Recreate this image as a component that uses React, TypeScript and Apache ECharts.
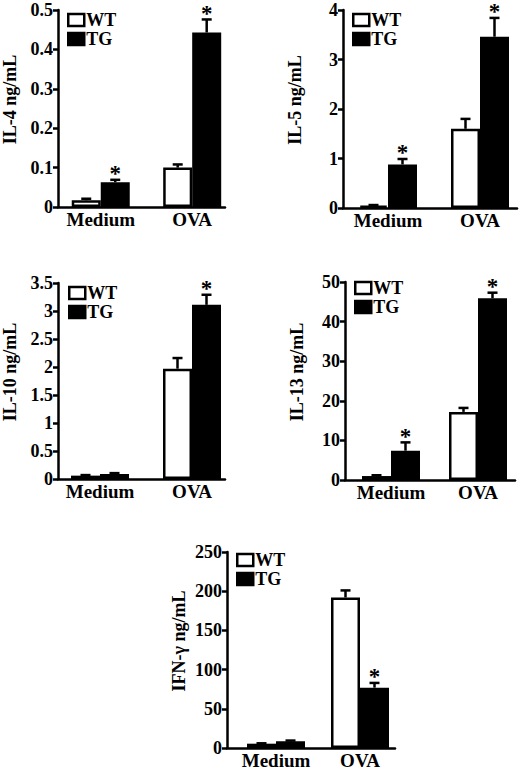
import React, { useEffect, useRef } from "react";
import * as echarts from "echarts";

// ---------- data ----------
const CATEGORIES = ["Medium", "OVA"];
const GROUPS = ["WT", "TG"];

const IL4_WT = [0.017, 0.1];
const IL4_WT_SEM = [0.004, 0.008];
const IL4_TG = [0.063, 0.443];
const IL4_TG_SEM = [0.006, 0.033];
const IL4_TG_SIG = [1, 1];

const IL5_WT = [0.05, 1.6];
const IL5_WT_SEM = [0.01, 0.2];
const IL5_TG = [0.88, 3.46];
const IL5_TG_SEM = [0.11, 0.38];
const IL5_TG_SIG = [1, 1];

const IL10_WT = [0.06, 1.97];
const IL10_WT_SEM = [0.01, 0.19];
const IL10_TG = [0.09, 3.11];
const IL10_TG_SEM = [0.015, 0.18];
const IL10_TG_SIG = [0, 1];

const IL13_WT = [1.0, 17.2];
const IL13_WT_SEM = [0.2, 1.0];
const IL13_TG = [7.4, 45.9];
const IL13_TG_SEM = [2.1, 1.4];
const IL13_TG_SIG = [1, 1];

const IFNG_WT = [5.5, 192];
const IFNG_WT_SEM = [0.5, 9];
const IFNG_TG = [8.5, 77];
const IFNG_TG_SEM = [1, 6];
const IFNG_TG_SIG = [0, 1];

const Y_NAMES = ["IL-4 ng/mL", "IL-5 ng/mL", "IL-10 ng/mL", "IL-13 ng/mL", "IFN-γ ng/mL"];
const Y_MAX = [0.5, 4, 3.5, 50, 250];
const Y_STEP = [0.1, 1, 0.5, 10, 50];

const PANELS = [
  { wt: IL4_WT, wtSem: IL4_WT_SEM, tg: IL4_TG, tgSem: IL4_TG_SEM, sig: IL4_TG_SIG },
  { wt: IL5_WT, wtSem: IL5_WT_SEM, tg: IL5_TG, tgSem: IL5_TG_SEM, sig: IL5_TG_SIG },
  { wt: IL10_WT, wtSem: IL10_WT_SEM, tg: IL10_TG, tgSem: IL10_TG_SEM, sig: IL10_TG_SIG },
  { wt: IL13_WT, wtSem: IL13_WT_SEM, tg: IL13_TG, tgSem: IL13_TG_SEM, sig: IL13_TG_SIG },
  { wt: IFNG_WT, wtSem: IFNG_WT_SEM, tg: IFNG_TG, tgSem: IFNG_TG_SEM, sig: IFNG_TG_SIG },
];

// ---------- layout (pixels) ----------
const LAYOUT = [
  { left: 57, right: 225, top: 10, bottom: 207, c1: 100, c2: 192, lgLeft: 67, lgTop: 11 },
  { left: 343, right: 517, top: 10, bottom: 208, c1: 388, c2: 480, lgLeft: 352, lgTop: 11 },
  { left: 58, right: 225, top: 283, bottom: 479, c1: 100, c2: 192, lgLeft: 68, lgTop: 284 },
  { left: 345, right: 515, top: 282, bottom: 480, c1: 391, c2: 478, lgLeft: 354, lgTop: 279 },
  { left: 227, right: 395, top: 552, bottom: 748, c1: 276, c2: 360, lgLeft: 236, lgTop: 551 },
];

const FONT = '"Liberation Serif", "Times New Roman", serif';
const BAR_W = 29;
const LW = 2.5;

function errorSeries(i: number, offsetSign: number, values: number[], sem: number[], sig: number[]) {
  return {
    type: "custom",
    xAxisIndex: i,
    yAxisIndex: i,
    z: 5,
    silent: true,
    data: values.map((v, j) => [j, v, v + sem[j], sig[j]]),
    renderItem: (params: any, api: any) => {
      const x = api.value(0);
      const base = api.coord([x, api.value(1)]);
      const top = api.coord([x, api.value(2)]);
      const cx = base[0] + (offsetSign * BAR_W) / 2;
      const children: any[] = [
        { type: "line", shape: { x1: cx, y1: base[1], x2: cx, y2: top[1] }, style: { stroke: "#000", lineWidth: LW } },
        { type: "line", shape: { x1: cx - 5, y1: top[1], x2: cx + 5, y2: top[1] }, style: { stroke: "#000", lineWidth: LW } },
      ];
      if (api.value(3)) {
        children.push({
          type: "text",
          x: cx,
          y: top[1] - 6,
          style: {
            text: "*",
            fontSize: 23,
            lineHeight: 12,
            fontWeight: "bold",
            fontFamily: FONT,
            fill: "#000",
            align: "center",
            verticalAlign: "middle",
          },
        });
      }
      return { type: "group", children };
    },
  };
}

export default function App() {
  const ref = useRef<HTMLDivElement>(null);
  useEffect(() => {
    if (!ref.current) return;
    const chart = echarts.init(ref.current, null, { renderer: "svg" });
    const grid: any[] = [];
    const xAxis: any[] = [];
    const yAxis: any[] = [];
    const legend: any[] = [];
    const series: any[] = [];
    LAYOUT.forEach((L, i) => {
      const span = L.c2 - L.c1;
      grid.push({ left: L.left, top: L.top, width: L.right - L.left, height: L.bottom - L.top, containLabel: false });
      xAxis.push({
        type: "value",
        gridIndex: i,
        min: -(L.c1 - L.left) / span,
        max: (L.right - L.c1) / span,
        axisLine: { show: true, onZero: false, lineStyle: { color: "#000", width: LW } },
        axisTick: { show: false },
        splitLine: { show: false },
        axisLabel: {
          customValues: [0, 1],
          formatter: (v: number) => CATEGORIES[Math.round(v)],
          fontSize: 19,
          fontWeight: "bold",
          fontFamily: FONT,
          color: "#000",
          margin: 3,
        },
      });
      yAxis.push({
        type: "value",
        gridIndex: i,
        min: 0,
        max: Y_MAX[i],
        interval: Y_STEP[i],
        name: Y_NAMES[i],
        nameLocation: "middle",
        nameGap: 39,
        nameTextStyle: { fontSize: 18, fontWeight: "bold", fontFamily: FONT, color: "#000", padding: [0, 0, 0, 18] },
        axisLine: { show: true, onZero: false, lineStyle: { color: "#000", width: LW } },
        axisTick: { show: true, inside: false, length: 5, lineStyle: { color: "#000", width: LW } },
        splitLine: { show: false },
        axisLabel: { fontSize: 18, fontWeight: "bold", fontFamily: FONT, color: "#000", margin: 5 },
      });
      legend.push({
        left: L.lgLeft,
        top: L.lgTop,
        orient: "vertical",
        selectedMode: false,
        padding: 0,
        itemWidth: 16,
        itemHeight: 12,
        itemGap: 1,
        icon: "rect",
        textStyle: { fontSize: 18, fontWeight: "bold", fontFamily: FONT, color: "#000", padding: [0, 0, 0, -3] },
        data: [
          { name: GROUPS[0], itemStyle: { color: "#fff", borderColor: "#000", borderWidth: LW } },
          { name: GROUPS[1], itemStyle: { color: "#000", borderColor: "#000", borderWidth: LW } },
        ],
      });
      const P = PANELS[i];
      series.push({
        type: "bar",
        name: GROUPS[0],
        xAxisIndex: i,
        yAxisIndex: i,
        barWidth: BAR_W,
        barGap: "0%",
        itemStyle: { color: "#fff", borderColor: "#000", borderWidth: LW },
        data: P.wt.map((v, j) => [j, v]),
      });
      series.push({
        type: "bar",
        name: GROUPS[1],
        xAxisIndex: i,
        yAxisIndex: i,
        barWidth: BAR_W,
        barGap: "0%",
        itemStyle: { color: "#000", borderColor: "#000", borderWidth: LW },
        data: P.tg.map((v, j) => [j, v]),
      });
      series.push(errorSeries(i, -1, P.wt, P.wtSem, P.wt.map(() => 0)));
      series.push(errorSeries(i, 1, P.tg, P.tgSem, P.sig));
    });
    chart.setOption({
      animation: false,
      backgroundColor: "#fff",
      textStyle: { fontFamily: FONT },
      grid,
      xAxis,
      yAxis,
      legend,
      series,
    });
    return () => chart.dispose();
  }, []);
  return <div ref={ref} style={{ position: "absolute", left: 0, top: 0, width: 520, height: 772 }} />;
}
